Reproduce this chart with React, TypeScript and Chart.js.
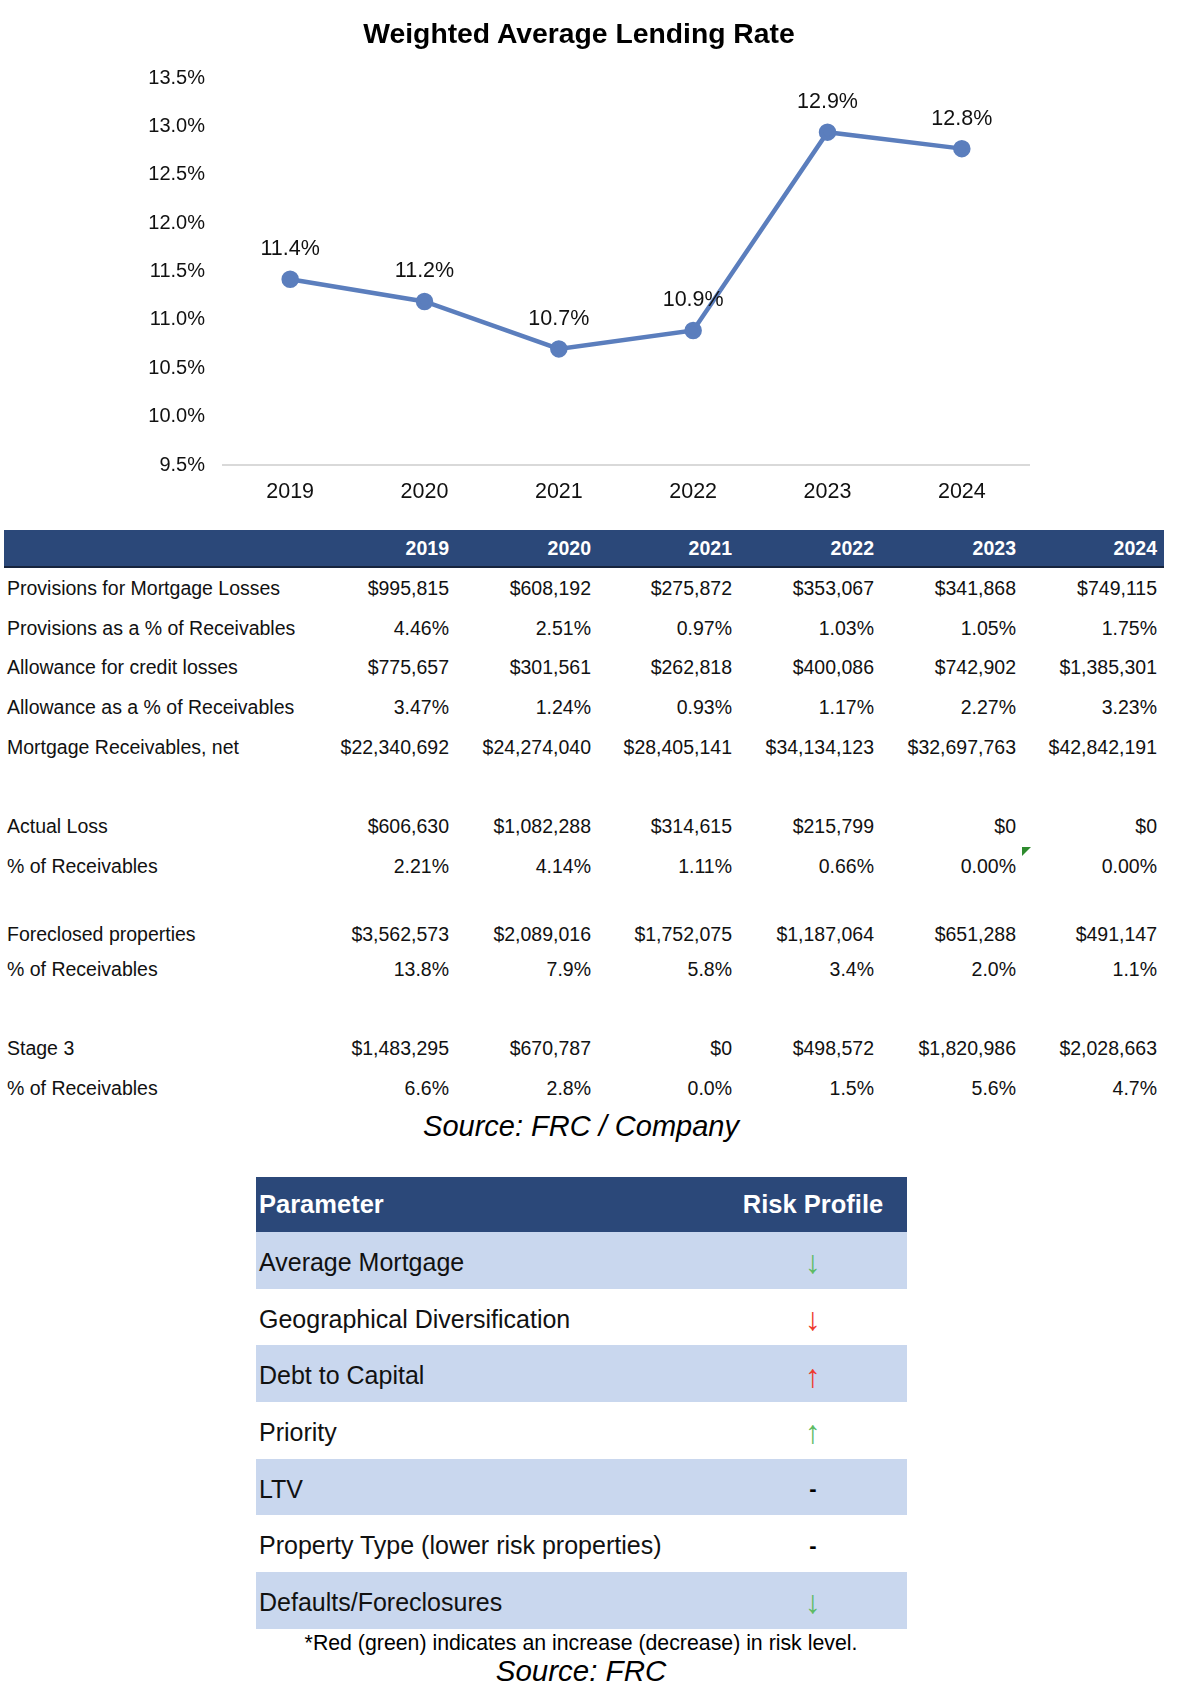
import React, { useEffect, useRef } from "react";
import { Chart, registerables } from "chart.js";

Chart.register(...registerables);

// ---------- Chart data ----------
const chartTitle = "Weighted Average Lending Rate";
const years = ["2019", "2020", "2021", "2022", "2023", "2024"];
const lendingRate = [11.42, 11.19, 10.7, 10.89, 12.94, 12.77];
const yMin = 9.5;
const yMax = 13.5;
const yStep = 0.5;

// ---------- Financial table data ----------
const provisions = ["$995,815", "$608,192", "$275,872", "$353,067", "$341,868", "$749,115"];
const provisionsPct = ["4.46%", "2.51%", "0.97%", "1.03%", "1.05%", "1.75%"];
const allowance = ["$775,657", "$301,561", "$262,818", "$400,086", "$742,902", "$1,385,301"];
const allowancePct = ["3.47%", "1.24%", "0.93%", "1.17%", "2.27%", "3.23%"];
const receivables = ["$22,340,692", "$24,274,040", "$28,405,141", "$34,134,123", "$32,697,763", "$42,842,191"];
const actualLoss = ["$606,630", "$1,082,288", "$314,615", "$215,799", "$0", "$0"];
const actualLossPct = ["2.21%", "4.14%", "1.11%", "0.66%", "0.00%", "0.00%"];
const foreclosed = ["$3,562,573", "$2,089,016", "$1,752,075", "$1,187,064", "$651,288", "$491,147"];
const foreclosedPct = ["13.8%", "7.9%", "5.8%", "3.4%", "2.0%", "1.1%"];
const stage3 = ["$1,483,295", "$670,787", "$0", "$498,572", "$1,820,986", "$2,028,663"];
const stage3Pct = ["6.6%", "2.8%", "0.0%", "1.5%", "5.6%", "4.7%"];

const tableRows: [string, string[]][] = [
  ["Provisions for Mortgage Losses", provisions],
  ["Provisions as a % of Receivables", provisionsPct],
  ["Allowance for credit losses", allowance],
  ["Allowance as a % of Receivables", allowancePct],
  ["Mortgage Receivables, net", receivables],
  ["Actual Loss", actualLoss],
  ["% of Receivables", actualLossPct],
  ["Foreclosed properties", foreclosed],
  ["% of Receivables", foreclosedPct],
  ["Stage 3", stage3],
  ["% of Receivables", stage3Pct],
];
const tableSource = "Source: FRC / Company";

// ---------- Risk table data ----------
const riskParams = [
  "Average Mortgage",
  "Geographical Diversification",
  "Debt to Capital",
  "Priority",
  "LTV",
  "Property Type (lower risk properties)",
  "Defaults/Foreclosures",
];
const riskSymbols = ["↓", "↓", "↑", "↑", "-", "-", "↓"];
const riskTones = ["green", "red", "red", "green", "neutral", "neutral", "green"];
const riskNote = "*Red (green) indicates an increase (decrease) in risk level.";
const riskSource = "Source: FRC";

// ---------- layout (not data) ----------
const FONT = '"Liberation Sans", Arial, Helvetica, sans-serif';
const LINE_COLOR = "#5B7EBD";
const NAVY = "#2B4879";
const BAND = "#C9D7EE";
const colRights = [449, 591, 732, 874, 1016, 1157];
const rowCenters = [588, 628, 667, 707, 747, 826, 866, 934, 969, 1048, 1088];
const toneColor: Record<string, string> = { green: "#5DBB63", red: "#EE3A2C", neutral: "#000" };

const valueLabels = {
  id: "valueLabels",
  afterDatasetsDraw(chart: any) {
    const ctx = chart.ctx;
    const meta = chart.getDatasetMeta(0);
    ctx.save();
    ctx.font = `21.5px ${FONT}`;
    ctx.fillStyle = "#111";
    ctx.textAlign = "center";
    ctx.textBaseline = "middle";
    meta.data.forEach((pt: any, i: number) => {
      ctx.fillText(lendingRate[i].toFixed(1) + "%", pt.x, pt.y - 30);
    });
    ctx.restore();
  },
};

function LendingChart() {
  const ref = useRef<HTMLCanvasElement | null>(null);
  useEffect(() => {
    if (!ref.current) return;
    const chart = new Chart(ref.current, {
      type: "line",
      data: {
        labels: years,
        datasets: [
          {
            data: lendingRate,
            borderColor: LINE_COLOR,
            backgroundColor: LINE_COLOR,
            borderWidth: 4.5,
            pointRadius: 6.5,
            pointHoverRadius: 6.5,
            pointBackgroundColor: LINE_COLOR,
            pointBorderColor: LINE_COLOR,
            tension: 0,
            clip: false as any,
          },
        ],
      },
      options: {
        animation: false,
        responsive: true,
        maintainAspectRatio: false,
        layout: { padding: { left: 0, right: 131, top: 78, bottom: 0 } },
        plugins: {
          legend: { display: false },
          title: { display: false },
          tooltip: { enabled: false },
        },
        scales: {
          x: {
            offset: true,
            grid: { display: false, drawTicks: false },
            border: { display: true, color: "#D9D9D9", width: 2 },
            ticks: { color: "#111", font: { family: FONT, size: 21.5 }, padding: 14 },
            afterFit: (s: any) => {
              s.height = 45;
            },
          },
          y: {
            min: yMin,
            max: yMax,
            grid: { display: false, drawTicks: false },
            border: { display: false },
            ticks: {
              stepSize: yStep,
              color: "#111",
              padding: 18,
              font: { family: FONT, size: 20 },
              callback: (v: any) => Number(v).toFixed(1) + "%",
            },
            afterFit: (s: any) => {
              s.width = 223;
            },
          },
        },
      },
      plugins: [valueLabels],
    });
    return () => chart.destroy();
  }, []);
  return (
    <div style={{ position: "absolute", left: 0, top: 0, width: 1160, height: 510 }}>
      <canvas ref={ref} />
    </div>
  );
}

export default function App() {
  return (
    <div
      style={{
        position: "absolute",
        left: 0,
        top: 0,
        width: 1180,
        height: 1690,
        background: "#fff",
        fontFamily: FONT,
        color: "#111",
        overflow: "hidden",
      }}
    >
      <div
        style={{
          position: "absolute",
          left: 0,
          top: 14,
          width: 1158,
          textAlign: "center",
          fontWeight: "bold",
          fontSize: 28.3,
          lineHeight: "38px",
          color: "#000",
          zIndex: 2,
        }}
      >
        {chartTitle}
      </div>
      <LendingChart />

      {/* Financial table header */}
      <div
        style={{
          position: "absolute",
          left: 4,
          top: 530,
          width: 1160,
          height: 36,
          background: NAVY,
          borderBottom: "2px solid #17243d",
        }}
      />
      {years.map((y, i) => (
        <div
          key={"h" + y}
          style={{
            position: "absolute",
            top: 530,
            height: 36,
            lineHeight: "36px",
            right: 1180 - colRights[i],
            color: "#fff",
            fontWeight: "bold",
            fontSize: 19.5,
          }}
        >
          {y}
        </div>
      ))}
      {tableRows.map(([label, vals], r) => (
        <React.Fragment key={"r" + r}>
          <div
            style={{
              position: "absolute",
              left: 7,
              top: rowCenters[r] - 20,
              height: 40,
              lineHeight: "40px",
              fontSize: 19.5,
              whiteSpace: "nowrap",
            }}
          >
            {label}
          </div>
          {vals.map((v, i) => (
            <div
              key={i}
              style={{
                position: "absolute",
                right: 1180 - colRights[i],
                top: rowCenters[r] - 20,
                height: 40,
                lineHeight: "40px",
                fontSize: 19.5,
                whiteSpace: "nowrap",
              }}
            >
              {v}
            </div>
          ))}
        </React.Fragment>
      ))}
      {/* comment marker */}
      <div
        style={{
          position: "absolute",
          left: 1022,
          top: 847,
          width: 0,
          height: 0,
          borderTop: "9px solid #2E8B2E",
          borderRight: "9px solid transparent",
        }}
      />
      <div
        style={{
          position: "absolute",
          left: 0,
          top: 1108,
          width: 1162,
          textAlign: "center",
          fontStyle: "italic",
          fontSize: 29,
          lineHeight: "36px",
          color: "#000",
        }}
      >
        {tableSource}
      </div>

      {/* Risk table */}
      <div style={{ position: "absolute", left: 256, top: 1177, width: 651 }}>
        <div
          style={{
            height: 55,
            background: NAVY,
            color: "#fff",
            fontWeight: "bold",
            fontSize: 25.5,
            display: "flex",
            alignItems: "center",
          }}
        >
          <div style={{ width: 463, paddingLeft: 3, boxSizing: "border-box" }}>Parameter</div>
          <div style={{ width: 188, textAlign: "center" }}>Risk Profile</div>
        </div>
        {riskParams.map((p, i) => (
          <div
            key={p}
            style={{
              height: 56.7,
              background: i % 2 === 0 ? BAND : "#fff",
              display: "flex",
              alignItems: "center",
              fontSize: 25,
              color: "#111",
            }}
          >
            <div
              style={{
                width: 463,
                paddingLeft: 3,
                paddingTop: 4,
                boxSizing: "border-box",
                whiteSpace: "nowrap",
              }}
            >
              {p}
            </div>
            <div
              style={{
                width: 188,
                textAlign: "center",
                paddingTop: 4,
                color: toneColor[riskTones[i]],
                fontWeight: riskTones[i] === "neutral" ? "bold" : "normal",
                fontSize: riskTones[i] === "neutral" ? 22 : 32,
                lineHeight: 1,
              }}
            >
              {riskSymbols[i]}
            </div>
          </div>
        ))}
      </div>
      <div
        style={{
          position: "absolute",
          left: 0,
          top: 1630,
          width: 1162,
          textAlign: "center",
          fontSize: 21.3,
          lineHeight: "26px",
          color: "#000",
        }}
      >
        {riskNote}
      </div>
      <div
        style={{
          position: "absolute",
          left: 0,
          top: 1653,
          width: 1162,
          textAlign: "center",
          fontStyle: "italic",
          fontSize: 29.5,
          lineHeight: "36px",
          color: "#000",
        }}
      >
        {riskSource}
      </div>
    </div>
  );
}
